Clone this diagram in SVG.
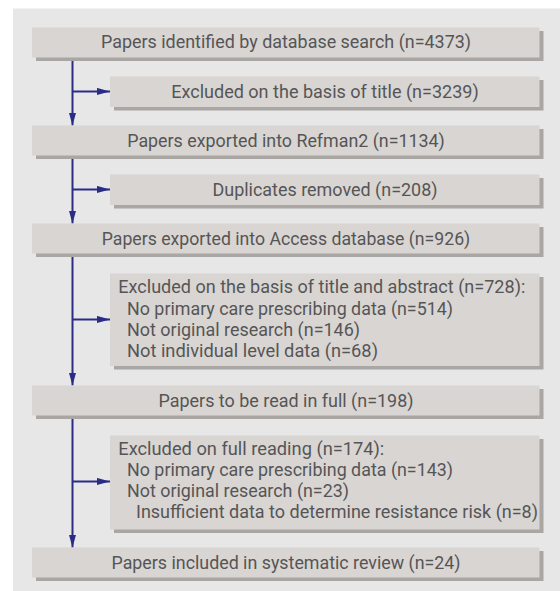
<svg xmlns="http://www.w3.org/2000/svg" width="560" height="591" viewBox="0 0 560 591">
<style>
.panel{fill:#e7e7e7}
.box{fill:#d9d5d2}
.sh{fill:#a9a6a3}
.t{font-family:Roboto,"Noto Sans","Liberation Sans",sans-serif;font-size:17.5px;fill:#555557}
.c{text-anchor:middle}
.ln{stroke:#2a2c86;stroke-width:2;fill:none}
</style>
<defs>
<marker id="ah" markerUnits="userSpaceOnUse" markerWidth="14" markerHeight="8" refX="13" refY="3.6" orient="auto">
<path d="M0,0 L13,3.6 L0,7.2 z" fill="#2a2c86"/>
</marker>
</defs>
<rect class="panel" x="13" y="8.5" width="547" height="582.5"/>
<g id="connectors">
<path class="ln" d="M72.5,57.5 V125.5" marker-end="url(#ah)"/>
<path class="ln" d="M72.5,91.5 H110" marker-end="url(#ah)"/>
<path class="ln" d="M72.5,155.5 V223.5" marker-end="url(#ah)"/>
<path class="ln" d="M72.5,189.5 H110" marker-end="url(#ah)"/>
<path class="ln" d="M72.5,253.5 V385.5" marker-end="url(#ah)"/>
<path class="ln" d="M72.5,319.5 H110" marker-end="url(#ah)"/>
<path class="ln" d="M72.5,415.5 V547.5" marker-end="url(#ah)"/>
<path class="ln" d="M72.5,481.5 H110" marker-end="url(#ah)"/>
</g>
<g id="n1">
<rect class="sh" x="36" y="31" width="507.5" height="30"/>
<rect class="box" x="32" y="27.5" width="507.5" height="30"/>
<text class="t c" x="286" y="48" textLength="370" lengthAdjust="spacingAndGlyphs">Papers identified by database search (n=4373)</text>
</g>
<g id="n2">
<rect class="sh" x="114" y="80" width="429.5" height="30.5"/>
<rect class="box" x="110" y="76.5" width="429.5" height="30.5"/>
<text class="t c" x="325" y="97.5" textLength="307.6" lengthAdjust="spacingAndGlyphs">Excluded on the basis of title (n=3239)</text>
</g>
<g id="n3">
<rect class="sh" x="36" y="129" width="507.5" height="30"/>
<rect class="box" x="32" y="125.5" width="507.5" height="30"/>
<text class="t c" x="286" y="146.5" textLength="317.5" lengthAdjust="spacingAndGlyphs">Papers exported into Refman2 (n=1134)</text>
</g>
<g id="n4">
<rect class="sh" x="114" y="178" width="429.5" height="30.5"/>
<rect class="box" x="110" y="174.5" width="429.5" height="30.5"/>
<text class="t c" x="325" y="195.5" textLength="225" lengthAdjust="spacingAndGlyphs">Duplicates removed (n=208)</text>
</g>
<g id="n5">
<rect class="sh" x="36" y="227" width="507.5" height="30"/>
<rect class="box" x="32" y="223.5" width="507.5" height="30"/>
<text class="t c" x="286" y="244.5" textLength="368.5" lengthAdjust="spacingAndGlyphs">Papers exported into Access database (n=926)</text>
</g>
<g id="n6">
<rect class="sh" x="114" y="277" width="429.5" height="92.5"/>
<rect class="box" x="110" y="273.5" width="429.5" height="92.5"/>
<text class="t" x="118.3" y="293" textLength="407" lengthAdjust="spacingAndGlyphs">Excluded on the basis of title and abstract (n=728):</text>
<text class="t" x="127" y="314.5" textLength="326" lengthAdjust="spacingAndGlyphs">No primary care prescribing data (n=514)</text>
<text class="t" x="127" y="335.5" textLength="233" lengthAdjust="spacingAndGlyphs">Not original research (n=146)</text>
<text class="t" x="127" y="356.5" textLength="251" lengthAdjust="spacingAndGlyphs">Not individual level data (n=68)</text>
</g>
<g id="n7">
<rect class="sh" x="36" y="389" width="507.5" height="30"/>
<rect class="box" x="32" y="385.5" width="507.5" height="30"/>
<text class="t c" x="286" y="406.5" textLength="255" lengthAdjust="spacingAndGlyphs">Papers to be read in full (n=198)</text>
</g>
<g id="n8">
<rect class="sh" x="114" y="439" width="429.5" height="94"/>
<rect class="box" x="110" y="435.5" width="429.5" height="94"/>
<text class="t" x="118.3" y="454.5" textLength="266" lengthAdjust="spacingAndGlyphs">Excluded on full reading (n=174):</text>
<text class="t" x="127" y="475.7" textLength="326" lengthAdjust="spacingAndGlyphs">No primary care prescribing data (n=143)</text>
<text class="t" x="127" y="496.7" textLength="222" lengthAdjust="spacingAndGlyphs">Not original research (n=23)</text>
<text class="t" x="136" y="517.5" textLength="402" lengthAdjust="spacingAndGlyphs">Insufficient data to determine resistance risk (n=8)</text>
</g>
<g id="n9">
<rect class="sh" x="36" y="551" width="507.5" height="30"/>
<rect class="box" x="32" y="547.5" width="507.5" height="30"/>
<text class="t c" x="286" y="568.5" textLength="349" lengthAdjust="spacingAndGlyphs">Papers included in systematic review (n=24)</text>
</g>
</svg>
